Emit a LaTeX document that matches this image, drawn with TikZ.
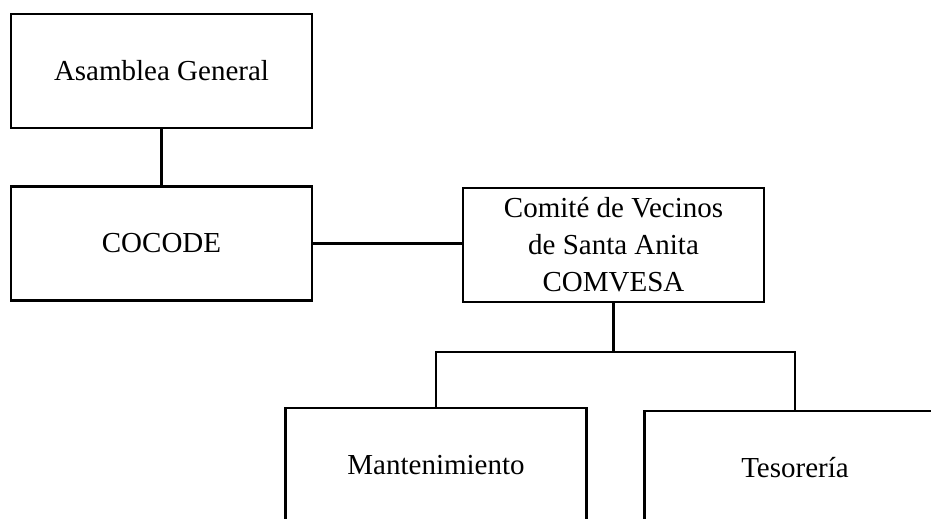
\documentclass[tikz,border=0pt]{standalone}
\usepackage{fontspec}
\setmainfont{Liberation Serif}
\begin{document}
\begin{tikzpicture}[x=1pt,y=-1pt,
  orgbox/.style={draw=black, line width=2.4pt, rectangle, minimum width=301pt,
    minimum height=114pt, inner sep=0pt, align=center,
    font=\fontsize{29}{37}\selectfont},
  link/.style={draw=black, line width=2.4pt}]
\useasboundingbox (0,0) rectangle (931,519);
\clip (0,0) rectangle (931,519);
\fill[white] (0,0) rectangle (931,519);
\node[orgbox] (asamblea) at (161.5,71) {Asamblea General};
\node[orgbox] (cocode) at (161.5,243.5) {COCODE};
\node[orgbox] (comvesa) at (613.5,245) {Comité de Vecinos\\de Santa Anita\\COMVESA};
\node[orgbox] (mant) at (436,465) {Mantenimiento};
\node[orgbox] (tes) at (795,468) {Tesorería};
\coordinate (bar) at (613.5,352);
\path[link] (asamblea.south) -- (cocode.north);
\path[link] (cocode.east) -- (cocode.east -| comvesa.west);
\path[link] (comvesa.south) -- (bar);
\path[link] (mant.north) |- (bar) -| (tes.north);
\end{tikzpicture}
\end{document}
